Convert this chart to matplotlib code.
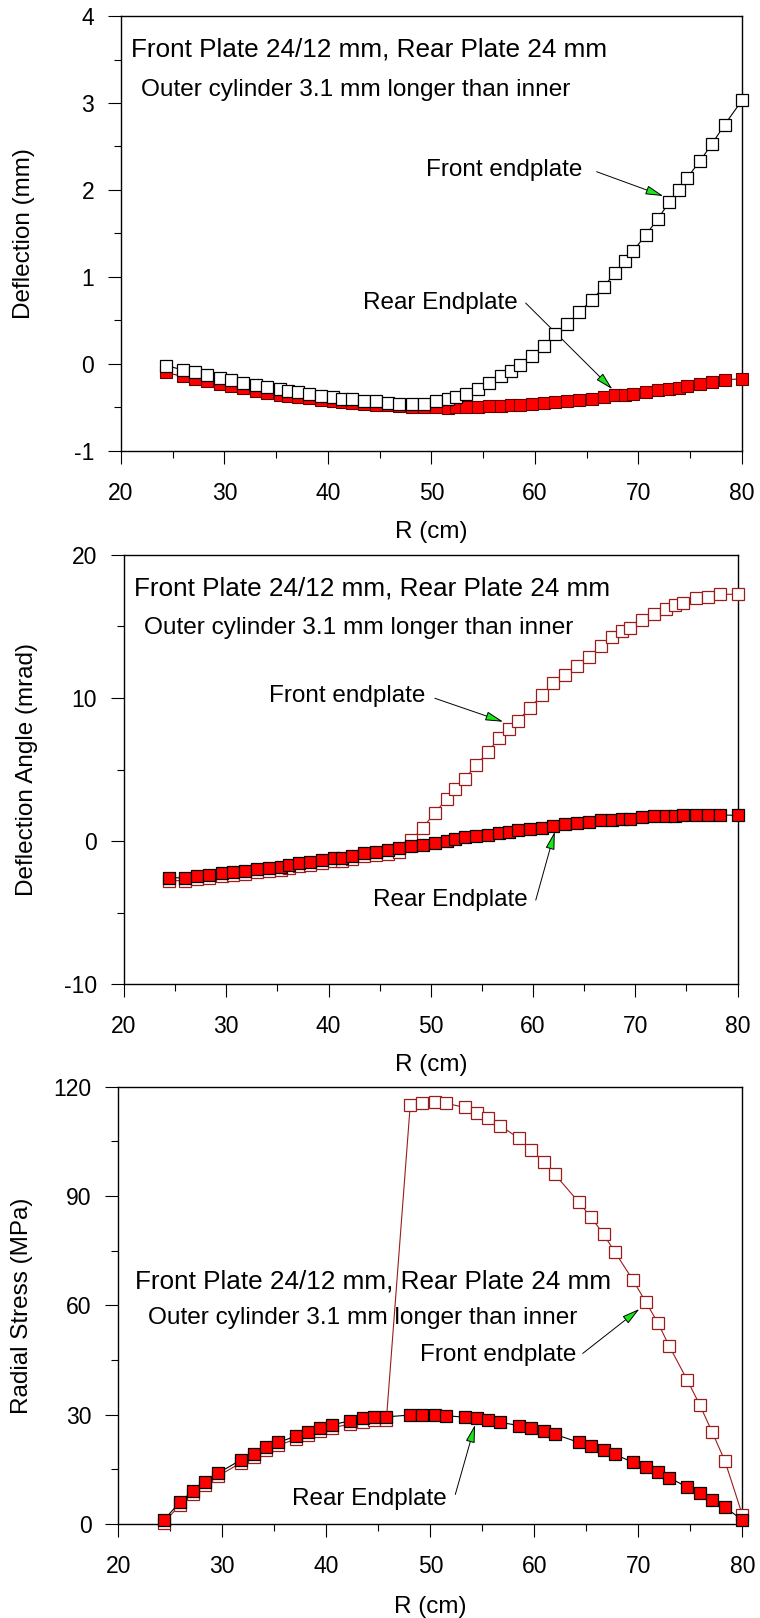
import numpy as np
import matplotlib
matplotlib.use('Agg')
from matplotlib import pyplot as plt

#--------------------------------
# DATA
#--------------------------------

# radial node positions (cm) for deflection and deflection angle
r_nodes = [24.35, 25.95, 27.15, 28.35, 29.55, 30.65, 31.8, 33.0, 34.15, 35.37,
           36.1, 37.08, 38.2, 39.37, 40.5, 41.33, 42.3, 43.48, 44.6, 45.77,
           46.9, 48.07, 49.23, 50.4, 51.55, 52.33, 53.32, 54.47, 55.55, 56.72,
           57.65, 58.52, 59.7, 60.9, 61.98, 63.13, 64.27, 65.47, 66.65, 67.75,
           68.74, 69.49, 70.69, 71.88, 72.97, 73.88, 74.7, 75.92, 77.1, 78.32, 80.0]

# deflection (mm)
defl_front = [-0.02, -0.066, -0.097, -0.131, -0.16, -0.188, -0.215, -0.24, -0.27, -0.29,
              -0.316, -0.32, -0.345, -0.368, -0.384, -0.398, -0.406, -0.421, -0.425, -0.448,
              -0.455, -0.462, -0.46, -0.43, -0.40, -0.38, -0.345, -0.29, -0.22, -0.14,
              -0.077, -0.017, 0.09, 0.21, 0.34, 0.46, 0.6, 0.73, 0.89, 1.05,
              1.18, 1.30, 1.48, 1.67, 1.86, 2.0, 2.14, 2.33, 2.53, 2.75, 3.03]
defl_rear = [-0.098, -0.144, -0.171, -0.201, -0.229, -0.259, -0.282, -0.309, -0.332, -0.355,
             -0.367, -0.378, -0.393, -0.416, -0.431, -0.443, -0.454, -0.466, -0.474, -0.477,
             -0.485, -0.493, -0.495, -0.5, -0.502, -0.494, -0.491, -0.491, -0.483, -0.479,
             -0.476, -0.471, -0.46, -0.453, -0.437, -0.43, -0.414, -0.399, -0.379, -0.361,
             -0.353, -0.345, -0.322, -0.303, -0.284, -0.272, -0.257, -0.234, -0.211, -0.184, -0.169]

# deflection angle (mrad)
angle_front = [-2.77, -2.77, -2.65, -2.55, -2.44, -2.35, -2.28, -2.16, -2.08, -2.0,
               -1.86, -1.76, -1.67, -1.55, -1.42, -1.39, -1.25, -1.06, -0.97, -0.88,
               -0.75, 0.05, 0.93, 1.98, 2.92, 3.62, 4.36, 5.33, 6.2, 7.22,
               7.8, 8.41, 9.32, 10.21, 11.03, 11.63, 12.24, 12.89, 13.64, 14.24,
               14.71, 14.92, 15.45, 15.87, 16.22, 16.5, 16.67, 16.97, 17.08, 17.25, 17.25]
angle_rear = [-2.57, -2.57, -2.45, -2.36, -2.24, -2.15, -2.08, -1.96, -1.89, -1.80,
              -1.66, -1.56, -1.47, -1.35, -1.22, -1.19, -1.05, -0.86, -0.75, -0.65,
              -0.49, -0.35, -0.28, -0.15, 0.0, 0.16, 0.26, 0.33, 0.44, 0.58,
              0.65, 0.75, 0.86, 0.93, 1.07, 1.17, 1.24, 1.35, 1.45, 1.47,
              1.54, 1.54, 1.66, 1.75, 1.75, 1.77, 1.82, 1.82, 1.82, 1.82, 1.80]

# radial positions (cm) for stress values
r_stress = [24.35, 25.95, 27.15, 28.35, 29.55, 31.8, 33.0, 34.15, 35.37, 37.08,
            38.2, 39.37, 40.5, 42.3, 43.48, 44.6, 45.77, 48.07, 49.23, 50.4,
            51.55, 53.32, 54.47, 55.55, 56.72, 58.52, 59.7, 60.9, 61.98, 64.27,
            65.47, 66.65, 67.75, 69.49, 70.69, 71.88, 72.97, 74.7, 75.92, 77.1, 78.32, 80.0]

# radial stress (MPa)
stress_front = [0.3, 5.3, 8.2, 10.8, 13.1, 16.8, 18.5, 20.2, 21.6, 23.3,
                24.5, 25.5, 26.4, 27.4, 28.1, 28.5, 28.5, 115.1, 115.6, 115.7,
                115.4, 114.3, 112.9, 111.3, 109.3, 105.8, 102.6, 99.4, 95.9, 88.3,
                84.1, 79.5, 74.6, 66.9, 61.0, 55.2, 48.8, 39.5, 32.6, 25.2, 17.3, 2.5]
stress_rear = [1.0, 6.1, 9.05, 11.6, 13.9, 17.6, 19.3, 21.0, 22.4, 24.1,
               25.3, 26.3, 27.2, 28.3, 29.0, 29.4, 29.4, 29.9, 29.9, 29.9,
               29.7, 29.3, 29.0, 28.5, 27.9, 27.0, 26.3, 25.5, 24.6, 22.4,
               21.4, 20.3, 19.1, 16.9, 15.6, 14.2, 12.7, 10.1, 8.4, 6.6, 4.6, 1.1]

title_1 = 'Front Plate 24/12 mm, Rear Plate 24 mm'
title_2 = 'Outer cylinder 3.1 mm longer than inner'

#--------------------------------
# PLOTTING
#--------------------------------
plt.rcParams['font.family'] = ['Liberation Sans', 'DejaVu Sans']
plt.rcParams['axes.unicode_minus'] = False   # plain hyphen, as in the original

dark_red = '#9b1c1c'
arrow_green = '#19e619'
ms = 8.3


def style_axis(ax, ylim, ymajor, yminor, ylabel, ylab_x, xlab_y):
    ax.set_xlim(20, 80)
    ax.set_ylim(*ylim)
    ax.set_xticks(np.arange(20, 81, 10))
    ax.set_xticks(np.arange(25, 80, 10), minor=True)
    ax.set_yticks(ymajor)
    ax.set_yticks(yminor, minor=True)
    ax.tick_params(which='major', direction='out', length=9.4, width=0.8,
                   labelsize=16.5, colors='black')
    ax.tick_params(axis='x', which='major', pad=13)
    ax.tick_params(axis='y', which='major', pad=10)
    ax.tick_params(which='minor', direction='out', length=5, width=0.8)
    for sp in ax.spines.values():
        sp.set_linewidth(1.0)
    ax.set_ylabel(ylabel, fontsize=17.5)
    ax.yaxis.set_label_coords(ylab_x, 0.5)
    ax.yaxis.label.set_va('center')
    ax.set_xlabel('R (cm)', fontsize=17.5)
    ax.xaxis.set_label_coords(0.5, xlab_y)
    ax.xaxis.label.set_va('center')


def arrow(ax, tip, start):
    ax.annotate('', xy=tip, xytext=start,
                arrowprops=dict(arrowstyle='-|>,head_length=1.1,head_width=0.28',
                                fc=arrow_green, ec='black', lw=0.7,
                                shrinkA=0, shrinkB=0, mutation_scale=10))


fig = plt.figure(figsize=(7.6, 16.18), dpi=100)

#********************************
# Deflection
ax1 = fig.add_axes([0.1592, 0.7213, 0.8171, 0.2688])
ax1.plot(r_nodes, defl_rear, color='#7a0000', lw=0.8, marker='s', ms=ms,
         mfc='red', mec='#600000', mew=0.8, zorder=3)
ax1.plot(r_nodes, defl_front, color='black', lw=0.8, marker='s', ms=ms,
         mfc='white', mec='black', mew=0.9, zorder=4)
style_axis(ax1, (-1, 4), np.arange(-1, 4.1, 1), np.arange(-0.5, 4, 1),
           'Deflection (mm)', -0.156, -0.186)
ax1.text(21.0, 3.61, title_1, fontsize=18.8, va='center', ha='left')
ax1.text(21.93, 3.15, title_2, fontsize=17.6, va='center', ha='left')
ax1.text(49.5, 2.23, 'Front endplate', fontsize=17.5, va='center', ha='left')
arrow(ax1, (72.4, 1.93), (65.96, 2.21))
ax1.text(58.36, 0.70, 'Rear Endplate', fontsize=17.5, va='center', ha='right')
arrow(ax1, (67.47, -0.29), (59.1, 0.70))

#********************************
# Deflection angle
ax2 = fig.add_axes([0.1632, 0.3918, 0.8072, 0.2652])
ax2.plot(r_nodes, angle_front, color=dark_red, lw=0.8, marker='s', ms=ms,
         mfc='white', mec=dark_red, mew=0.9, zorder=3)
ax2.plot(r_nodes, angle_rear, color='black', lw=0.8, marker='s', ms=ms,
         mfc='red', mec='black', mew=0.9, zorder=4)
style_axis(ax2, (-10, 20), np.arange(-10, 21, 10), np.arange(-5, 20, 10),
           'Deflection Angle (mrad)', -0.158, -0.188)
ax2.text(20.98, 17.67, title_1, fontsize=18.8, va='center', ha='left')
ax2.text(21.98, 14.87, title_2, fontsize=17.6, va='center', ha='left')
ax2.text(34.2, 10.14, 'Front endplate', fontsize=17.5, va='center', ha='left')
arrow(ax2, (57.08, 8.34), (50.4, 9.98))
ax2.text(59.5, -4.13, 'Rear Endplate', fontsize=17.5, va='center', ha='right')
arrow(ax2, (62.13, 0.65), (60.27, -4.13))

#********************************
# Radial stress
ax3 = fig.add_axes([0.1557, 0.0581, 0.8211, 0.2703])
ax3.plot(r_stress, stress_front, color=dark_red, lw=0.8, marker='s', ms=ms,
         mfc='white', mec=dark_red, mew=0.9, zorder=3)
ax3.plot(r_stress, stress_rear, color='black', lw=0.8, marker='s', ms=ms,
         mfc='red', mec='black', mew=0.9, zorder=4)
style_axis(ax3, (0, 120), np.arange(0, 121, 30), np.arange(15, 120, 30),
           'Radial Stress (MPa)', -0.154, -0.19)
ax3.text(21.6, 66.5, title_1, fontsize=18.8, va='center', ha='left')
ax3.text(22.83, 56.4, title_2, fontsize=17.6, va='center', ha='left')
ax3.text(64.0, 46.4, 'Front endplate', fontsize=17.5, va='center', ha='right')
arrow(ax3, (70.1, 59.0), (64.65, 46.8))
ax3.text(51.6, 6.9, 'Rear Endplate', fontsize=17.5, va='center', ha='right')
arrow(ax3, (54.3, 27.2), (52.4, 8.1))

for ax in (ax1, ax2, ax3):
    for line in ax.lines:
        line.set_clip_on(False)

fig.savefig('out.png', dpi=100)
